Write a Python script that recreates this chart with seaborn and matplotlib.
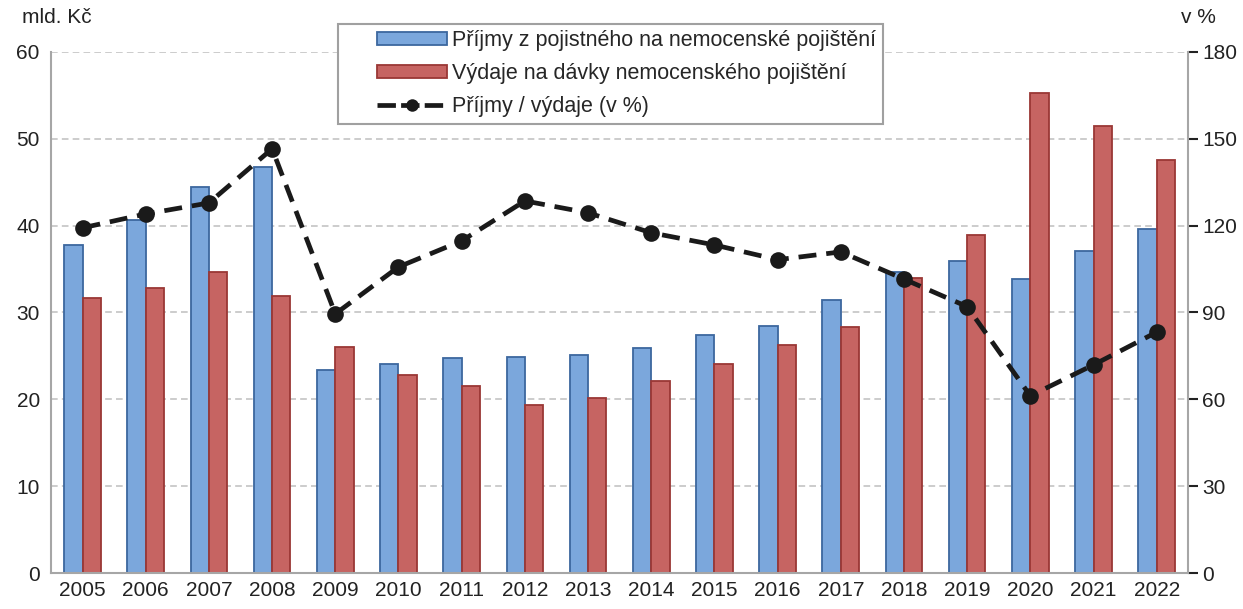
import numpy as np
import pandas as pd
import matplotlib
matplotlib.use("Agg")
import matplotlib.pyplot as plt
import seaborn as sns
from matplotlib.lines import Line2D
from matplotlib.patches import Patch, Rectangle

years = ["2005", "2006", "2007", "2008", "2009", "2010", "2011", "2012", "2013",
         "2014", "2015", "2016", "2017", "2018", "2019", "2020", "2021", "2022"]
prijmy = [37.8, 40.6, 44.4, 46.7, 23.4, 24.1, 24.7, 24.9, 25.1,
          25.9, 27.4, 28.4, 31.4, 34.7, 35.9, 33.9, 37.1, 39.6]
vydaje = [31.7, 32.8, 34.7, 31.9, 26.0, 22.8, 21.5, 19.4, 20.1,
          22.1, 24.1, 26.3, 28.3, 34.0, 38.9, 55.2, 51.5, 47.6]
pomer = [119.2, 124.0, 127.8, 146.5, 89.5, 105.7, 114.7, 128.5, 124.4,
         117.5, 113.3, 108.2, 110.9, 101.5, 92.0, 61.2, 71.9, 83.2]

lab_p = "Příjmy z pojistného na nemocenské pojištění"
lab_v = "Výdaje na dávky nemocenského pojištění"
lab_r = "Příjmy / výdaje (v %)"

sns.set_theme(style="white")
plt.rcParams["font.family"] = ["Liberation Sans", "DejaVu Sans"]

blue, blue_e = "#7BA7DC", "#3C679E"
red, red_e = "#C66462", "#9A3735"
linec = "#1A1A1A"
gridc = "#C4C4C4"
spinec = "#A6A6A6"

df = pd.DataFrame({
    "rok": years * 2,
    "hodnota": prijmy + vydaje,
    "serie": [lab_p] * len(years) + [lab_v] * len(years),
})

fig = plt.figure(figsize=(12.43, 6.09), dpi=100)
ax = fig.add_axes([0.041, 0.059, 0.915, 0.856])

sns.barplot(data=df, x="rok", y="hodnota", hue="serie", palette=[blue, red],
            width=0.58, ax=ax, legend=False, saturation=1)
for cont, ec in zip(ax.containers, [blue_e, red_e]):
    for p in cont:
        p.set_edgecolor(ec)
        p.set_linewidth(1.3)

ax.set_ylim(0, 60)
ax.set_xlim(-0.5, len(years) - 0.5)
ax.set_yticks(range(0, 61, 10))
ax.set_xlabel("")
ax.set_ylabel("")
ax.yaxis.grid(True, linestyle=(0, (4, 2.5)), color=gridc, linewidth=1.2)
ax.set_axisbelow(True)
ax.tick_params(axis="both", labelsize=15, colors="#222222", length=0, pad=8)
ax.tick_params(axis="x", pad=6)
for s in ["left", "bottom"]:
    ax.spines[s].set_color(spinec)
    ax.spines[s].set_linewidth(1.5)
ax.spines["top"].set_visible(False)
ax.spines["right"].set_visible(False)

ax2 = ax.twinx()
sns.lineplot(x=np.arange(len(years)), y=pomer, ax=ax2, color=linec,
             linewidth=3.4, marker="o", markersize=12, markeredgewidth=0,
             dashes=False)
ax2.lines[0].set_linestyle((0, (3.8, 2.1)))
ax2.set_ylim(0, 180)
ax2.set_yticks(range(0, 181, 30))
ax2.tick_params(axis="y", labelsize=15, colors="#222222", length=7, width=1.5, pad=3)
for t in ax2.yaxis.get_ticklines():
    t.set_color(spinec)
ax2.spines["right"].set_color(spinec)
ax2.spines["right"].set_linewidth(1.5)
for s in ["left", "top", "bottom"]:
    ax2.spines[s].set_visible(False)
ax2.grid(False)

fig.text(0.018, 0.972, "mld. Kč", fontsize=15, color="#222222", va="center")
fig.text(0.978, 0.972, "v %", fontsize=15, color="#222222", va="center", ha="right")


class RightPatchHandler:
    """Draw the swatch only in the right part of the handle box."""
    def __init__(self, fc, ec, frac=0.68):
        self.fc, self.ec, self.frac = fc, ec, frac

    def legend_artist(self, legend, orig, fontsize, handlebox):
        x0, y0 = -handlebox.xdescent, -handlebox.ydescent
        w, h = handlebox.width, handlebox.height
        r = Rectangle((x0 + w * (1 - self.frac), y0), w * self.frac, h,
                      facecolor=self.fc, edgecolor=self.ec, linewidth=1.3,
                      transform=handlebox.get_transform())
        handlebox.add_artist(r)
        return r


class RightLineHandler:
    def __init__(self, frac=0.68):
        self.frac = frac

    def legend_artist(self, legend, orig, fontsize, handlebox):
        x0, y0 = -handlebox.xdescent, -handlebox.ydescent
        w, h = handlebox.width, handlebox.height
        xs = x0 + w * (1 - self.frac)
        ln = Line2D([xs, x0 + w], [y0 + h / 2] * 2, color=linec, linewidth=3.4,
                    linestyle=(0, (3.9, 1.1)), transform=handlebox.get_transform())
        mk = Line2D([xs + w * self.frac / 2], [y0 + h / 2], color=linec,
                    marker="o", markersize=9, markeredgewidth=0,
                    transform=handlebox.get_transform())
        handlebox.add_artist(ln)
        handlebox.add_artist(mk)
        return ln


h1 = Patch(facecolor=blue, edgecolor=blue_e)
h2 = Patch(facecolor=red, edgecolor=red_e)
h3 = Line2D([], [], color=linec)
leg = ax2.legend([h1, h2, h3], [lab_p, lab_v, lab_r], loc="upper left",
                 bbox_to_anchor=(0.252, 1.054), fontsize=15.5, frameon=True,
                 fancybox=False, edgecolor="#A0A0A0", framealpha=1,
                 handlelength=4.78, handleheight=0.55, handletextpad=0.25,
                 labelspacing=0.56, borderpad=0.3, borderaxespad=0,
                 handler_map={h1: RightPatchHandler(blue, blue_e),
                              h2: RightPatchHandler(red, red_e),
                              h3: RightLineHandler()})
leg.get_frame().set_linewidth(1.5)
leg.set_zorder(10)

fig.savefig("out.png", dpi=100)
